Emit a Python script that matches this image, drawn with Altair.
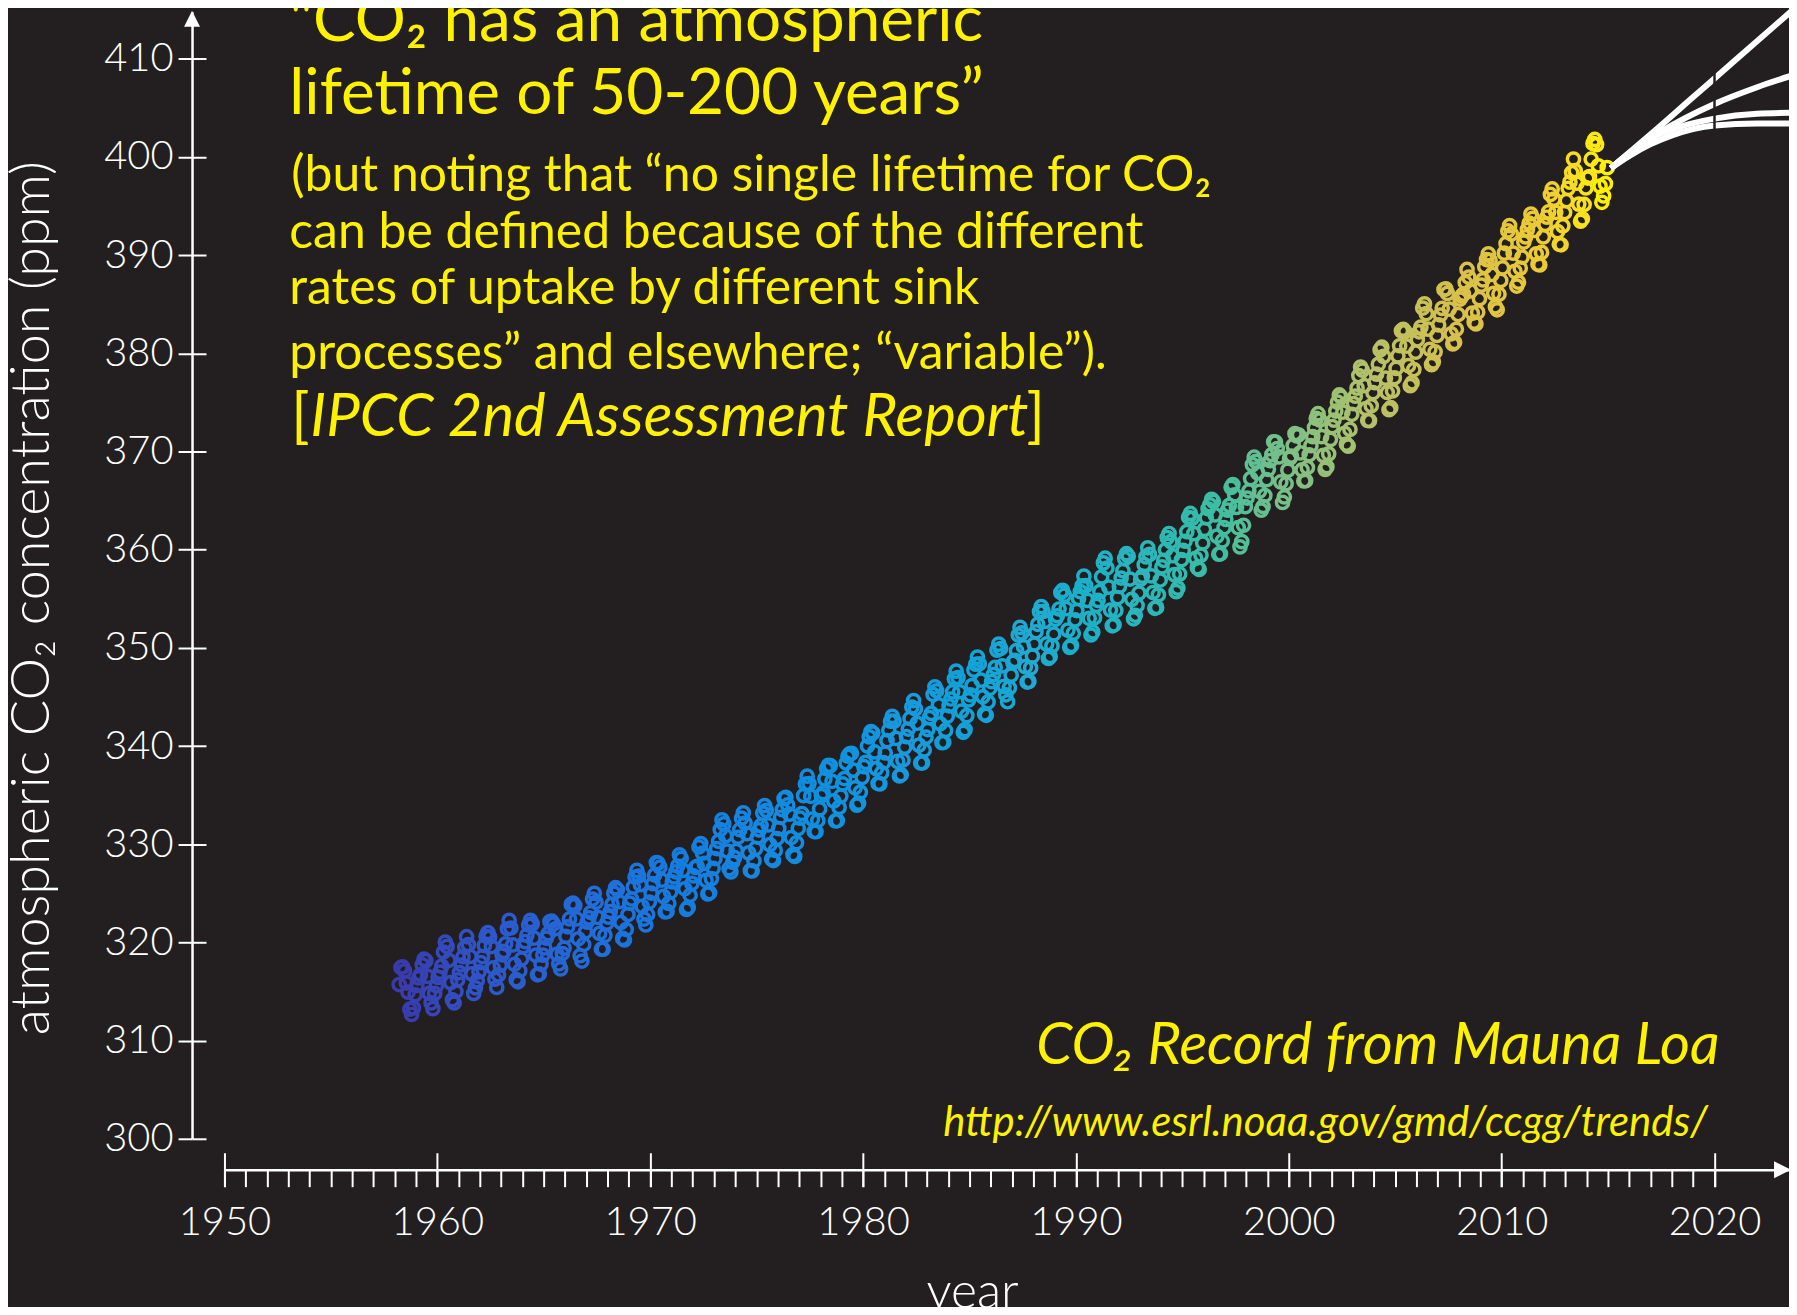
import altair as alt
import pandas as pd

BG = "#231f20"
YELLOW = "#fff200"
WHITE = "#ffffff"
FONT = "Lato"

# Monthly Mauna Loa CO2 (ppm), starting March 1958
START_YEAR, START_MONTH = 1958, 3
CO2_1950S = [315.71, 317.45, 317.50, 317.10, 315.86, 314.93, 313.20, 312.66, 313.33, 314.67,
             315.62, 316.38, 316.71, 317.72, 318.29, 318.15, 316.54, 314.80, 313.84, 313.26, 314.80, 315.58]
CO2_1960S = [316.43, 316.97, 317.58, 319.02, 320.03, 319.59, 318.18, 315.91, 314.16, 313.83, 315.00, 316.19,
             316.93, 317.70, 318.54, 319.48, 320.58, 319.77, 318.57, 316.79, 314.80, 315.38, 316.10, 317.01,
             317.94, 318.56, 319.68, 320.63, 321.01, 320.55, 319.58, 317.40, 316.26, 315.42, 316.69, 317.69,
             318.74, 319.08, 319.86, 321.39, 322.25, 321.47, 319.74, 317.77, 316.21, 315.99, 317.12, 318.31,
             319.57, 320.07, 320.73, 321.77, 322.25, 321.89, 320.44, 318.70, 316.70, 316.79, 317.79, 318.71,
             319.44, 320.44, 320.89, 322.13, 322.16, 321.87, 321.39, 318.81, 317.81, 317.30, 318.87, 319.42,
             320.62, 321.59, 322.39, 323.87, 324.01, 323.75, 322.39, 320.37, 318.64, 318.10, 319.79, 321.08,
             322.07, 322.50, 323.04, 324.42, 325.00, 324.09, 322.55, 320.92, 319.31, 319.31, 320.72, 321.96,
             322.57, 323.15, 323.89, 325.02, 325.57, 325.36, 324.14, 322.03, 320.41, 320.25, 321.31, 322.84,
             324.00, 324.42, 325.64, 326.66, 327.34, 326.76, 325.88, 323.67, 322.38, 321.78, 322.85, 324.11]
CO2_1970S = [325.03, 325.99, 326.87, 328.13, 328.07, 327.66, 326.35, 324.69, 323.10, 323.16, 323.98, 325.13,
             326.17, 326.68, 327.18, 327.78, 328.92, 328.57, 327.34, 325.46, 323.36, 323.57, 324.80, 326.01,
             326.77, 327.63, 327.75, 329.72, 330.07, 329.09, 328.05, 326.32, 324.93, 325.06, 326.50, 327.55,
             328.54, 329.56, 330.30, 331.50, 332.48, 332.07, 330.87, 329.31, 327.51, 327.18, 328.16, 328.64,
             329.35, 330.71, 331.48, 332.65, 333.20, 332.16, 331.07, 329.12, 327.32, 327.28, 328.30, 329.58,
             330.73, 331.46, 331.90, 333.17, 333.94, 333.45, 331.97, 329.95, 328.50, 328.34, 329.37, 330.58,
             331.59, 332.75, 333.52, 334.64, 334.77, 334.00, 333.06, 330.68, 328.95, 328.75, 330.15, 331.62,
             332.66, 333.13, 334.95, 336.13, 336.93, 336.17, 334.88, 332.56, 331.29, 331.27, 332.41, 333.60,
             334.95, 335.25, 336.66, 337.69, 338.03, 338.01, 336.41, 334.41, 332.37, 332.41, 333.75, 334.90,
             336.14, 336.69, 338.27, 338.96, 339.21, 339.26, 337.54, 335.75, 333.98, 334.19, 335.31, 336.81]
CO2_1980S = [337.90, 338.34, 340.01, 340.93, 341.48, 341.33, 339.40, 337.70, 336.19, 336.15, 337.27, 338.32,
             339.29, 340.55, 341.61, 342.53, 343.03, 342.54, 340.78, 338.44, 336.95, 337.08, 338.58, 339.88,
             340.96, 341.73, 342.81, 343.97, 344.63, 343.79, 342.32, 340.09, 338.28, 338.29, 339.60, 340.90,
             341.68, 342.90, 343.33, 345.25, 346.03, 345.63, 344.19, 342.27, 340.35, 340.38, 341.59, 343.05,
             344.10, 344.79, 345.52, 346.84, 347.63, 346.97, 345.53, 343.55, 341.40, 341.67, 343.10, 344.70,
             345.21, 346.16, 347.74, 348.33, 349.06, 348.38, 346.72, 345.02, 343.27, 343.13, 344.49, 345.88,
             346.56, 347.28, 348.01, 349.77, 350.38, 349.93, 348.16, 346.08, 345.22, 344.51, 345.93, 347.22,
             348.52, 348.73, 349.73, 351.31, 352.09, 351.53, 350.11, 348.08, 346.52, 346.59, 347.96, 349.16,
             350.39, 351.64, 352.40, 353.69, 354.21, 353.72, 352.69, 350.40, 348.92, 349.13, 350.20, 351.41,
             352.91, 353.27, 353.96, 355.64, 355.86, 355.37, 353.99, 351.81, 350.05, 350.25, 351.49, 352.85]
CO2_1990S = [353.80, 355.04, 355.73, 356.32, 357.32, 356.34, 354.84, 353.01, 351.31, 351.62, 353.07, 354.33,
             354.84, 355.73, 357.23, 358.66, 359.13, 358.13, 356.19, 353.85, 352.25, 352.35, 353.81, 355.12,
             356.25, 357.11, 357.86, 359.09, 359.59, 359.33, 357.01, 354.94, 352.96, 353.32, 354.32, 355.57,
             357.00, 357.31, 358.47, 359.27, 360.19, 359.52, 357.33, 355.64, 354.03, 354.12, 355.41, 356.91,
             358.24, 358.92, 359.99, 361.23, 361.65, 360.81, 359.38, 357.46, 355.73, 356.08, 357.53, 358.98,
             359.92, 360.86, 361.83, 363.30, 363.69, 363.19, 361.64, 359.12, 358.17, 357.99, 359.45, 360.68,
             362.07, 363.24, 364.17, 364.57, 365.13, 364.92, 363.55, 361.38, 359.54, 359.58, 360.89, 362.24,
             363.09, 364.03, 364.51, 366.35, 366.64, 365.59, 364.31, 362.25, 360.29, 360.82, 362.49, 364.38,
             365.26, 365.98, 367.24, 368.66, 369.42, 368.99, 367.82, 365.95, 364.02, 364.40, 365.52, 367.13,
             368.18, 369.07, 369.68, 370.99, 370.96, 370.30, 369.45, 366.90, 364.81, 365.37, 366.72, 368.10]
CO2_2000S = [369.29, 369.54, 370.60, 371.82, 371.58, 371.70, 369.86, 368.13, 367.00, 367.03, 368.37, 369.67,
             370.59, 371.51, 372.43, 373.37, 373.85, 373.21, 371.51, 369.61, 368.18, 368.45, 369.76, 371.24,
             372.53, 373.20, 374.12, 375.02, 375.76, 375.52, 374.01, 371.85, 370.75, 370.55, 372.25, 373.79,
             374.88, 375.64, 376.45, 377.73, 378.60, 378.28, 376.70, 374.38, 373.17, 373.14, 374.66, 375.99,
             377.00, 377.87, 378.88, 380.35, 380.62, 379.69, 377.47, 376.01, 374.25, 374.46, 376.16, 377.51,
             378.46, 379.73, 380.77, 382.29, 382.45, 382.21, 380.74, 378.74, 376.70, 377.00, 378.35, 380.11,
             381.38, 382.19, 382.67, 384.61, 385.03, 384.05, 382.46, 380.41, 378.85, 379.13, 380.15, 381.82,
             382.89, 383.90, 384.58, 386.50, 386.56, 386.10, 384.50, 381.99, 380.96, 381.12, 382.45, 383.95,
             385.52, 385.82, 386.03, 387.21, 388.54, 387.76, 386.36, 384.09, 383.18, 382.99, 384.19, 385.56,
             386.94, 387.48, 388.82, 389.55, 390.14, 389.48, 388.03, 386.11, 384.74, 384.43, 386.02, 387.42]
CO2_2010S = [388.71, 390.20, 391.17, 392.46, 393.00, 392.15, 390.20, 388.35, 386.85, 387.24, 388.67, 389.79,
             391.33, 391.86, 392.60, 393.25, 394.19, 393.74, 392.51, 390.13, 389.08, 389.00, 390.28, 391.86,
             393.12, 393.86, 394.40, 396.18, 396.74, 395.71, 394.36, 392.39, 391.11, 391.05, 392.98, 394.34,
             395.55, 396.80, 397.43, 398.41, 399.78, 398.60, 397.32, 395.20, 393.45, 393.70, 395.16, 396.84,
             397.85, 398.01, 399.77, 401.38, 401.78, 401.25, 399.10, 397.03, 395.38, 396.03, 397.28, 398.91]

# Colour stops (year -> colour)
COLOR_YEARS = [1958, 1962, 1968, 1975, 1982, 1988, 1993, 1997, 2000, 2004, 2008, 2012, 2014.9]
COLOR_HEX = ["#3a38a8", "#2f55c8", "#1f70dc", "#1887e0", "#1a99dc", "#22aad2", "#2db5bc", "#42bea0",
             "#7cbf88", "#b8c068", "#d8c04a", "#eccb34", "#fff000"]

# Projection curves beyond the record
PROJ_NAMES = ["a", "b", "c", "d"]
PROJ_YEARS = [[2015.13, 2017.0, 2019.0, 2021.0, 2023.8],
              [2015.13, 2016.3, 2017.5, 2020.0, 2022.0, 2023.8],
              [2015.13, 2016.0, 2017.0, 2018.0, 2020.0, 2022.0, 2023.8],
              [2015.13, 2016.0, 2017.0, 2018.0, 2020.0, 2022.0, 2023.8]]
PROJ_PPM = [[398.85, 402.3, 406.1, 409.9, 415.2],
            [398.85, 400.9, 402.6, 405.4, 407.1, 408.4],
            [398.85, 400.4, 401.9, 402.8, 403.9, 404.4, 404.5],
            [398.85, 400.1, 401.3, 402.2, 403.2, 403.4, 403.4]]
GAP_YEAR = [2020]
GAP_LOW, GAP_HIGH = [402.6], [409.4]

Y_TICKS = list(range(300, 411, 10))
X_MAJOR = list(range(1950, 2021, 10))
X_MINOR = list(range(1950, 2021, 1))

TITLE_1 = "\"CO\u2082 has an atmospheric"
TITLE_2 = "lifetime of 50-200 years\u201d"
PARA = ["(but noting that \u201cno single lifetime for CO\u2082",
        "can be defined because of the different",
        "rates of uptake by different  sink",
        "processes\u201d and elsewhere; \u201cvariable\u201d)."]
IPCC = "IPCC 2nd Assessment Report"
RECORD = "CO\u2082 Record from Mauna Loa"
URL = "http://www.esrl.noaa.gov/gmd/ccgg/trends/"
X_TITLE = "year"
Y_TITLE = "atmospheric CO\u2082 concentration (ppm)"

# ---------------------------------------------------------------- data
values = CO2_1950S + CO2_1960S + CO2_1970S + CO2_1980S + CO2_1990S + CO2_2000S + CO2_2010S
rows = []
for i, v in enumerate(values):
    m = START_MONTH - 1 + i
    rows.append({"t": START_YEAR + (m + 0.5) / 12.0, "ppm": v})
co2 = pd.DataFrame(rows)

proj_rows = []
for name, ys, ps in zip(PROJ_NAMES, PROJ_YEARS, PROJ_PPM):
    for i, (yv, pv) in enumerate(zip(ys, ps)):
        proj_rows.append({"s": name, "i": i, "t": yv, "ppm": pv})
proj = pd.DataFrame(proj_rows)
gap = pd.DataFrame({"t": GAP_YEAR, "lo": GAP_LOW, "hi": GAP_HIGH})

W, H = 1568.5, 1130
XS = alt.Scale(domain=[1950, 2023.5], nice=False, zero=False)
YS = alt.Scale(domain=[300, 414.8], nice=False, zero=False)

common_axis = dict(grid=False, title=None, tickColor=WHITE, tickWidth=2, domainColor=WHITE,
                   domainWidth=2.5, labelColor=WHITE, labelFont=FONT, labelFontSize=40,
                   labelFontWeight=300)

x_axis_main = alt.Axis(orient="bottom", offset=31, values=X_MAJOR, tickSize=17, labelPadding=16,
                       format="d", labelFlush=False, labelOverlap=False, **common_axis)
x_axis_minor = alt.Axis(orient="bottom", offset=31, values=X_MINOR, tickSize=17, labels=False,
                        domain=False, grid=False, title=None, tickColor=WHITE, tickWidth=2)
x_axis_up = alt.Axis(orient="bottom", offset=14, values=X_MAJOR, tickSize=17, labels=False,
                     domain=False, grid=False, title=None, tickColor=WHITE, tickWidth=2)
y_axis_main = alt.Axis(orient="left", offset=32.5, values=Y_TICKS, tickSize=14, labelPadding=5,
                       labelFlush=False, labelOverlap=False, **common_axis)
y_axis_right = alt.Axis(orient="left", offset=18.5, values=Y_TICKS, tickSize=14, labels=False,
                        domain=False, grid=False, title=None, tickColor=WHITE, tickWidth=2)

circles = alt.Chart(co2).mark_point(filled=False, size=150, strokeWidth=3.5, opacity=1).encode(
    x=alt.X("t:Q", scale=XS, axis=x_axis_main),
    y=alt.Y("ppm:Q", scale=YS, axis=y_axis_main),
    color=alt.Color("t:Q", scale=alt.Scale(domain=COLOR_YEARS, range=COLOR_HEX), legend=None),
)

lines = alt.Chart(proj).mark_line(color=WHITE, strokeWidth=6, interpolate="monotone").encode(
    x=alt.X("t:Q", scale=XS, axis=x_axis_minor),
    y=alt.Y("ppm:Q", scale=YS, axis=y_axis_right),
    detail="s:N",
    order="i:Q",
)

gap_rule = alt.Chart(gap).mark_rule(color=BG, strokeWidth=2.5).encode(
    x=alt.X("t:Q", scale=XS, axis=x_axis_up),
    y=alt.Y("lo:Q", scale=YS, axis=None),
    y2="hi:Q",
)


def label(text, x, y, size, italic=False, align="left", angle=0, color=YELLOW, weight=400):
    return alt.Chart(pd.DataFrame({"s": [text]})).mark_text(
        align=align, baseline="alphabetic", font=FONT, fontSize=size,
        fontStyle="italic" if italic else "normal", fontWeight=weight, color=color, angle=angle,
    ).encode(text="s:N", x=alt.value(x), y=alt.value(y))


texts = [
    label(TITLE_1, 65, 29, 64),
    label(TITLE_2, 65, 103, 64),
    label(PARA[0], 67, 180, 50),
    label(PARA[1], 65, 237, 50),
    label(PARA[2], 65, 293, 50),
    label(PARA[3], 65, 358, 50),
    label("[", 67, 425, 60),
    label(IPCC, 86, 425, 60, italic=True),
    label("]", 804, 425, 60),
    label(RECORD, 1499, 1055, 58, italic=True, align="right"),
    label(URL, 1487, 1127, 42, italic=True, align="right"),
    label(X_TITLE, 750, 1300, 50, align="center", color=WHITE, weight=300),
    label(Y_TITLE, -176, 588, 54, align="center", angle=270, color=WHITE, weight=300),
]

arrow_df = pd.DataFrame({"k": ["y", "x"]})
y_arrow = alt.Chart(arrow_df.iloc[[0]]).mark_point(
    shape="M0,-1L1,1L-1,1Z", filled=True, color=WHITE, size=256, opacity=1, strokeWidth=0
).encode(x=alt.value(-32.5), y=alt.value(7.2))
x_arrow = alt.Chart(arrow_df.iloc[[1]]).mark_point(
    shape="M1,0L-1,1L-1,-1Z", filled=True, color=WHITE, size=289, opacity=1, strokeWidth=0
).encode(x=alt.value(1562), y=alt.value(1161))

chart = alt.layer(circles, lines, gap_rule, y_arrow, x_arrow, *texts).resolve_axis(
    x="independent", y="independent"
).properties(
    width=W, height=H, background=BG,
    padding={"left": 217, "top": 2, "right": 0, "bottom": 167},
    autosize=alt.AutoSizeParams(type="none"),
).configure_view(stroke=None)

chart.save("out.html", embed_options={"renderer": "svg", "actions": False})
